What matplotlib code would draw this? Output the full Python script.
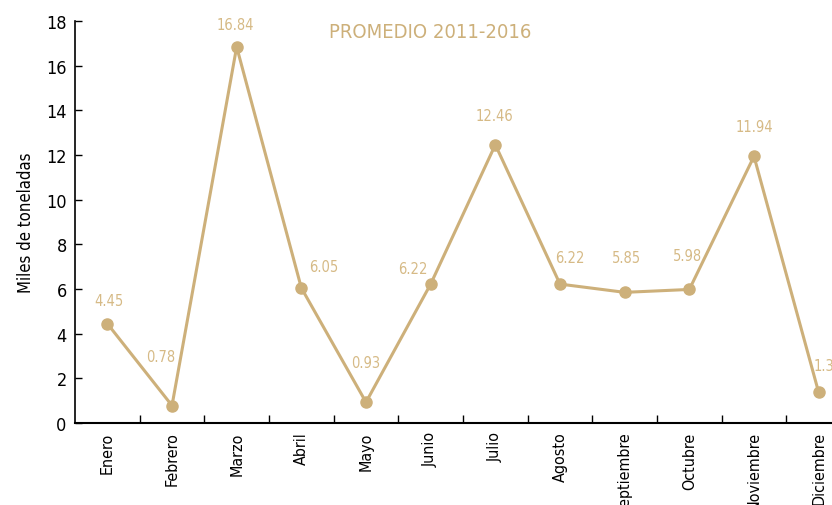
import matplotlib
matplotlib.use("Agg")
import matplotlib.pyplot as plt
from matplotlib import font_manager as fm

plt.rcParams['font.family'] = ['Liberation Sans Narrow', 'DejaVu Sans']
plt.rcParams['font.stretch'] = 'condensed'

months = ["Enero", "Febrero", "Marzo", "Abril", "Mayo", "Junio", "Julio",
          "Agosto", "Septiembre", "Octubre", "Noviembre", "Diciembre"]
values = [4.45, 0.78, 16.84, 6.05, 0.93, 6.22, 12.46, 6.22, 5.85, 5.98, 11.94, 1.37]
label_offsets = [(1, 11), (-8, 30), (-1, 11), (16, 10), (0, 23), (-13, 6), (-1, 16),
                 (7, 14), (1, 20), (-1, 19), (0, 16), (7, 14)]
yticks = [0, 2, 4, 6, 8, 10, 12, 14, 16, 18]

line_color = "#CDB07A"
label_color = "#D6BA86"

fig = plt.figure(figsize=(8.32, 5.06), dpi=100)
ax = fig.add_axes([75/832, 1-424/506, (851-75)/832, (424-22)/506])

x = list(range(len(months)))
ax.plot(x, values, color=line_color, lw=2.2, marker='o', ms=8, clip_on=False, zorder=3)

for xi, v, off in zip(x, values, label_offsets):
    ax.annotate(f"{v:.2f}", (xi, v), xytext=off, textcoords='offset points',
                ha='center', va='bottom', color=label_color, fontsize=10.5)

ax.set_xlim(-0.5, len(months) - 0.5)
ax.set_ylim(0, 18)
ax.set_yticks(yticks)
ax.set_yticklabels([str(t) for t in yticks], fontsize=13)
ax.set_xticks(x)
ax.set_xticklabels(months, rotation=90, fontsize=11.5)
ax.tick_params(axis='x', length=0, pad=6)
ax.set_xticks([i + 0.5 for i in x[:-1]], minor=True)
ax.tick_params(axis='x', which='minor', direction='in', length=6, width=1)
ax.tick_params(axis='y', direction='in', length=5, width=1, pad=6)

for s in ['top', 'right']:
    ax.spines[s].set_visible(False)
ax.spines['left'].set_linewidth(1.2)
ax.spines['bottom'].set_linewidth(1.5)

ax.set_ylabel("Miles de toneladas", fontsize=12, labelpad=8)
ax.text(430/832, 1-33/506, "PROMEDIO 2011-2016", transform=fig.transFigure,
        ha='center', va='center', color=line_color, fontsize=14.5)

fig.savefig("out.png", dpi=100)
